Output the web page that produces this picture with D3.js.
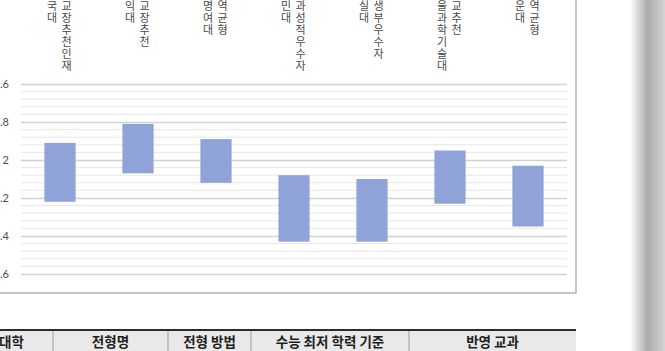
<!DOCTYPE html>
<html>
<head>
<meta charset="utf-8">
<script src="https://cdn.jsdelivr.net/npm/d3@7"></script>
<style>
  body { margin: 0; background: #fff; }
  svg { display: block; font-family: "Noto Sans CJK KR", "Noto Sans", sans-serif; }
</style>
</head>
<body>
<div id="chart"></div>
<script>
// data
var universities = ["동국대", "홍익대", "숙명여대", "국민대", "숭실대", "서울과학기술대", "광운대"];
var programs = ["학교장추천인재", "학교장추천", "지역균형", "교과성적우수자", "학생부우수자", "학교추천", "지역균형"];
var gradeTop = [1.91, 1.81, 1.89, 2.08, 2.10, 1.95, 2.03];
var gradeBottom = [2.22, 2.07, 2.12, 2.43, 2.43, 2.23, 2.35];
var yTicks = [1.6, 1.8, 2.0, 2.2, 2.4, 2.6];
var yTickLabels = ["1.6", "1.8", "2", "2.2", "2.4", "2.6"];
var tableHeaders = ["대학", "전형명", "전형 방법", "수능 최저 학력 기준", "반영 교과"];
var tableColumnEdges = [-30, 53, 168, 251, 409, 576];

var W = 665, H = 351;

var svg = d3.select("#chart")
    .append("svg")
    .attr("width", W)
    .attr("height", H);

var defs = svg.append("defs");
var grad = defs.append("linearGradient").attr("id", "shade")
    .attr("x1", "0%").attr("x2", "100%").attr("y1", "0%").attr("y2", "0%");
grad.append("stop").attr("offset", "0%").attr("stop-color", "#ffffff");
grad.append("stop").attr("offset", "50%").attr("stop-color", "#ababab");
grad.append("stop").attr("offset", "100%").attr("stop-color", "#d4d4d4");

// page shadow on the right
svg.append("rect")
    .attr("x", 630).attr("y", 0)
    .attr("width", W - 630).attr("height", H)
    .attr("fill", "url(#shade)");

// chart area frame (top/left are cut off)
svg.append("rect")
    .attr("x", -10).attr("y", -10)
    .attr("width", 586).attr("height", 303)
    .attr("fill", "#fff")
    .attr("stroke", "#a6a6a6")
    .attr("stroke-width", 1.3);

var categories = universities.map(function (d, i) { return i; });

var x = d3.scaleBand()
    .domain(categories)
    .range([21, 567])
    .paddingInner(0.6)
    .paddingOuter(0.3);

var y = d3.scaleLinear()
    .domain([1.6, 2.6])
    .range([84, 274]);

// minor grid lines
var minor = d3.range(0, 26).map(function (k) { return 1.6 + k * 0.04; })
    .filter(function (v, k) { return k % 5 !== 0; });

svg.append("g")
    .selectAll("line")
    .data(minor)
    .enter().append("line")
    .attr("x1", 21).attr("x2", 567)
    .attr("y1", function (d) { return y(d); })
    .attr("y2", function (d) { return y(d); })
    .attr("stroke", "#e6e6e6")
    .attr("stroke-width", 1);

// major grid lines + labels through an axis
var yAxis = d3.axisLeft(y)
    .tickValues(yTicks)
    .tickSize(-546)
    .tickPadding(12)
    .tickFormat(function (d, i) { return yTickLabels[i]; });

var gy = svg.append("g")
    .attr("transform", "translate(21,0)")
    .call(yAxis);
gy.select(".domain").remove();
gy.selectAll(".tick line").attr("stroke", "#d2d2d2").attr("stroke-width", 1.4);
gy.selectAll(".tick text")
    .attr("fill", "#4d4d4d")
    .style("font-size", "11px")
    .style("font-family", "Lato, 'Noto Sans', sans-serif");

// floating bars
svg.append("g")
    .selectAll("rect")
    .data(categories)
    .enter().append("rect")
    .attr("x", function (d) { return x(d); })
    .attr("width", x.bandwidth())
    .attr("y", function (d) { return y(gradeTop[d]); })
    .attr("height", function (d) { return y(gradeBottom[d]) - y(gradeTop[d]); })
    .attr("fill", "#8fa3d9");

// stacked vertical category labels, one glyph per row (top cut off)
var pitch = 12;
function stacked(label, cx) {
    svg.append("g").selectAll("text")
        .data(Array.from(label))
        .enter().append("text")
        .attr("x", cx)
        .attr("y", function (c, i) { return pitch * i - 2; })
        .attr("text-anchor", "middle")
        .attr("fill", "#484848")
        .style("font-size", "11px")
        .text(function (c) { return c; });
}
categories.forEach(function (d) {
    var cx = x(d) + x.bandwidth() / 2;
    stacked(universities[d], cx - 8);
    stacked(programs[d], cx + 6.5);
});

// table header below the chart
svg.append("rect")
    .attr("x", 0).attr("y", 331)
    .attr("width", 576).attr("height", 22)
    .attr("fill", "#e9e9e9");

svg.append("line")
    .attr("x1", 0).attr("x2", 576)
    .attr("y1", 330).attr("y2", 330)
    .attr("stroke", "#2b2b2b")
    .attr("stroke-width", 2);

svg.append("g").selectAll("line")
    .data(tableColumnEdges.slice(1, -1))
    .enter().append("line")
    .attr("x1", function (d) { return d; })
    .attr("x2", function (d) { return d; })
    .attr("y1", 331).attr("y2", H)
    .attr("stroke", "#9a9a9a");

svg.append("g").selectAll("text")
    .data(tableHeaders)
    .enter().append("text")
    .attr("x", function (d, i) { return (tableColumnEdges[i] + tableColumnEdges[i + 1]) / 2; })
    .attr("y", 347)
    .attr("text-anchor", "middle")
    .attr("fill", "#1e1e1e")
    .style("font-size", "13.5px")
    .style("font-weight", "600")
    .text(function (d) { return d; });
</script>
</body>
</html>
